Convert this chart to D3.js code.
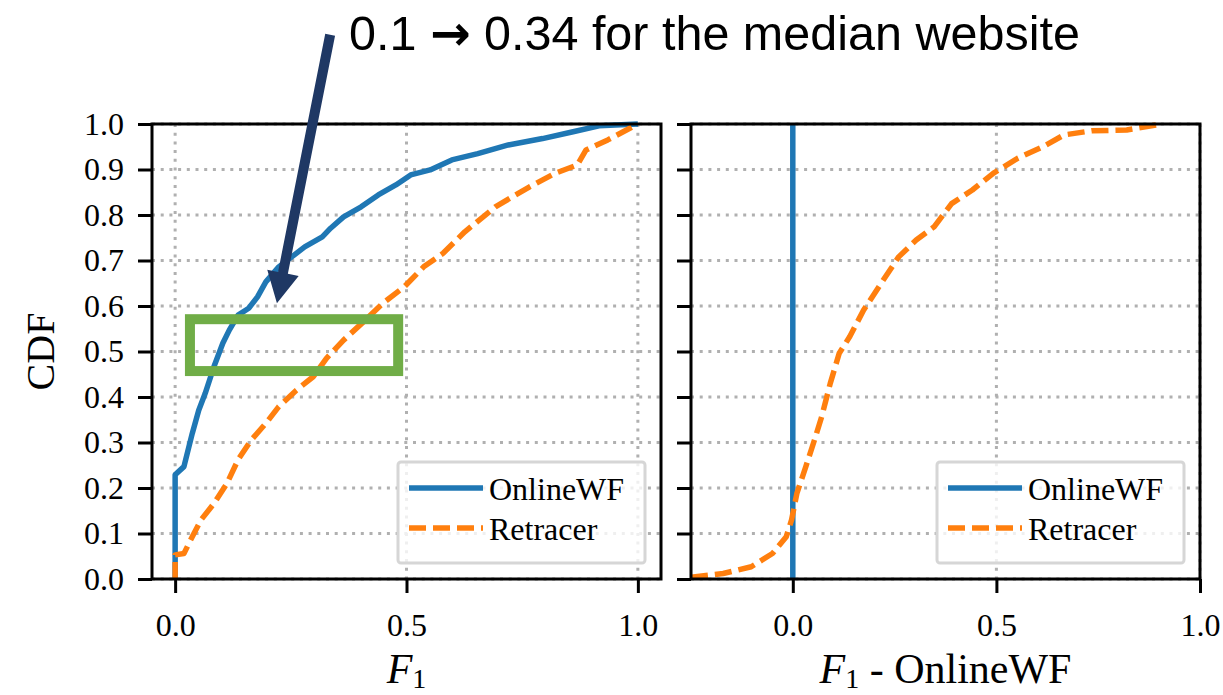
<!DOCTYPE html>
<html lang="en">
<head>
<meta charset="UTF-8">
<title>CDF of F1</title>
<script src="https://d3js.org/d3.v7.min.js"></script>
<style>
  body { margin: 0; background: #fff; }
  text { font-family: "Liberation Serif", "Times New Roman", serif; fill: #000; }
</style>
</head>
<body>
<svg id="chart" width="1223" height="695"></svg>
<script>
// ---- data ----
const yTicks = [0.0, 0.1, 0.2, 0.3, 0.4, 0.5, 0.6, 0.7, 0.8, 0.9, 1.0];
const xTicks = [0.0, 0.5, 1.0];
const seriesNames = ["OnlineWF", "Retracer"];

// left panel: CDF of F1
const onlineF1 = [
  [0, 0], [0, 0.229], [0.019, 0.247], [0.037, 0.32], [0.051, 0.371], [0.065, 0.408],
  [0.084, 0.467], [0.103, 0.518], [0.117, 0.547], [0.136, 0.58], [0.159, 0.595],
  [0.178, 0.62], [0.196, 0.653], [0.224, 0.686], [0.252, 0.708], [0.28, 0.73],
  [0.318, 0.752], [0.336, 0.771], [0.364, 0.796], [0.402, 0.818], [0.439, 0.844],
  [0.477, 0.866], [0.509, 0.888], [0.551, 0.899], [0.598, 0.921], [0.654, 0.935],
  [0.72, 0.954], [0.794, 0.968], [0.86, 0.983], [0.916, 0.996], [1.0, 1.0]
];
const retracerF1 = [
  [0, 0], [0, 0.053], [0.019, 0.056], [0.037, 0.093], [0.056, 0.13], [0.084, 0.166],
  [0.112, 0.21], [0.136, 0.262], [0.164, 0.305], [0.196, 0.342], [0.224, 0.379],
  [0.262, 0.415], [0.299, 0.445], [0.327, 0.485], [0.364, 0.525], [0.411, 0.569],
  [0.449, 0.606], [0.495, 0.642], [0.537, 0.686], [0.579, 0.716], [0.626, 0.763],
  [0.692, 0.818], [0.766, 0.862], [0.822, 0.892], [0.869, 0.91], [0.888, 0.943],
  [0.935, 0.965], [1.0, 1.0]
];

// right panel: CDF of F1 - OnlineWF
const onlineDiff = [[0, 0], [0, 1]];
const retracerDiff = [
  [-0.25, 0.004], [-0.171, 0.012], [-0.102, 0.027], [-0.05, 0.056], [-0.016, 0.093],
  [-0.003, 0.13], [0.01, 0.188], [0.032, 0.247], [0.053, 0.305], [0.071, 0.357],
  [0.092, 0.43], [0.114, 0.496], [0.14, 0.533], [0.174, 0.591], [0.217, 0.65],
  [0.26, 0.708], [0.303, 0.745], [0.347, 0.774], [0.39, 0.825], [0.441, 0.855],
  [0.493, 0.892], [0.553, 0.925], [0.614, 0.95], [0.666, 0.976], [0.734, 0.985],
  [0.82, 0.987], [0.907, 1.0]
];

// annotation (in left panel data units)
const annoParts = ["0.1 ", "\u2192", " 0.34 for the median website"];
const arrowFrom = [0.335, 1.196];
const arrowTo = [0.22, 0.606];
const boxLo = [0.032, 0.457];
const boxHi = [0.482, 0.571];

// ---- layout ----
const svg = d3.select("#chart");
const plotTop = 124, plotBottom = 579;
const colors = { OnlineWF: "#1f77b4", Retracer: "#ff7f0e" };
const fmt = d3.format(".1f");

const y = d3.scaleLinear().domain([0, 1]).range([plotBottom, plotTop]);

const panels = [
  { id: "left", x: d3.scaleLinear().domain([-0.05, 1.05]).range([152, 661]),
    series: [onlineF1, retracerF1], ylabels: true, xlabel: "F1" },
  { id: "right", x: d3.scaleLinear().domain([-0.25, 1.0]).range([691, 1200]),
    series: [onlineDiff, retracerDiff], ylabels: false, xlabel: "F1 - OnlineWF" }
];

svg.append("rect").attr("width", 1223).attr("height", 695).attr("fill", "#fff");

panels.forEach(p => {
  const x = p.x;
  const [x0, x1] = x.range();
  const g = svg.append("g").attr("class", p.id);

  svg.append("clipPath").attr("id", "clip-" + p.id)
    .append("rect").attr("x", x0).attr("y", plotTop - 3)
    .attr("width", x1 - x0).attr("height", plotBottom - plotTop + 6);

  // grid
  g.selectAll("line.hgrid")
    .data(yTicks)
    .join("line")
    .attr("class", "hgrid")
    .attr("x1", x0).attr("x2", x1)
    .attr("y1", d => y(d)).attr("y2", d => y(d))
    .attr("stroke", "#b0b0b0").attr("stroke-width", 3)
    .attr("stroke-dasharray", "3,5.7");
  g.selectAll("line.vgrid")
    .data(xTicks)
    .join("line")
    .attr("class", "vgrid")
    .attr("x1", d => x(d)).attr("x2", d => x(d))
    .attr("y1", plotTop).attr("y2", plotBottom)
    .attr("stroke", "#b0b0b0").attr("stroke-width", 3)
    .attr("stroke-dasharray", "3,5.7");

  // curves
  const line = d3.line().x(d => x(d[0])).y(d => y(d[1]));
  const curves = g.append("g").attr("clip-path", `url(#clip-${p.id})`);
  p.series.forEach((s, i) => {
    const name = seriesNames[i];
    curves.append("path")
      .datum(s)
      .attr("d", line)
      .attr("fill", "none")
      .attr("stroke", colors[name])
      .attr("stroke-width", 5.5)
      .attr("stroke-linejoin", "round")
      .attr("stroke-dasharray", name === "Retracer" ? "17,7" : null);
  });

  // spines
  g.append("rect")
    .attr("x", x0).attr("y", plotTop)
    .attr("width", x1 - x0).attr("height", plotBottom - plotTop)
    .attr("fill", "none").attr("stroke", "#000").attr("stroke-width", 3);

  // axes
  const yAxis = d3.axisLeft(y).tickValues(yTicks).tickSize(14).tickPadding(14)
    .tickFormat(p.ylabels ? fmt : () => "");
  const ya = g.append("g").attr("transform", `translate(${x0},0)`).call(yAxis);
  const xAxis = d3.axisBottom(x).tickValues(xTicks).tickSize(14).tickPadding(20).tickFormat(fmt);
  const xa = g.append("g").attr("transform", `translate(0,${plotBottom})`).call(xAxis);
  [ya, xa].forEach(a => {
    a.select(".domain").remove();
    a.selectAll(".tick line").attr("stroke", "#000").attr("stroke-width", 3);
    a.selectAll(".tick text")
      .attr("fill", "#000")
      .style("font-family", '"Liberation Serif", serif')
      .style("font-size", "32px");
  });

  // x label
  const xl = g.append("text")
    .attr("x", (x0 + x1) / 2).attr("y", 683)
    .attr("text-anchor", "middle")
    .style("font-size", "42px");
  xl.append("tspan").style("font-style", "italic").text("F");
  xl.append("tspan").attr("dy", 5).style("font-size", "28px").text("1");
  if (p.xlabel.length > 2) {
    xl.append("tspan").attr("dy", -5).text(" - OnlineWF");
  }

  // legend
  const lg = g.append("g").attr("transform", `translate(${x1 - 16 - 247},462)`);
  lg.append("rect")
    .attr("width", 247).attr("height", 101).attr("rx", 3)
    .attr("fill", "#fff").attr("fill-opacity", 0.8)
    .attr("stroke", "#d6d6d6").attr("stroke-width", 3);
  seriesNames.forEach((name, i) => {
    const ly = 26 + i * 40;
    lg.append("line")
      .attr("x1", 11).attr("x2", 85).attr("y1", ly).attr("y2", ly)
      .attr("stroke", colors[name]).attr("stroke-width", 5.5)
      .attr("stroke-dasharray", name === "Retracer" ? "17,7" : null);
    lg.append("text")
      .attr("x", 91).attr("y", ly + 12)
      .style("font-size", "32px")
      .text(name);
  });
});

// y label
svg.append("text")
  .attr("transform", `translate(54,${(plotTop + plotBottom) / 2}) rotate(-90)`)
  .attr("text-anchor", "middle")
  .style("font-size", "40px")
  .text("CDF");

// ---- annotation ----
const xL = panels[0].x;
svg.append("rect")
  .attr("x", xL(boxLo[0])).attr("y", y(boxHi[1]))
  .attr("width", xL(boxHi[0]) - xL(boxLo[0]))
  .attr("height", y(boxLo[1]) - y(boxHi[1]))
  .attr("fill", "none").attr("stroke", "#70ad47").attr("stroke-width", 10);

// arrow: shaft + head as one polygon
const ax0 = xL(arrowFrom[0]), ay0 = y(arrowFrom[1]);
const ax1 = xL(arrowTo[0]), ay1 = y(arrowTo[1]);
const len = Math.hypot(ax1 - ax0, ay1 - ay0);
const ux = (ax1 - ax0) / len, uy = (ay1 - ay0) / len;
const nx = -uy, ny = ux;
const headLen = 31, headHalf = 16, shaftHalf = 5;
const bx = ax1 - ux * headLen, by = ay1 - uy * headLen;
const arrowPts = [
  [ax0 + nx * shaftHalf, ay0 + ny * shaftHalf],
  [bx + nx * shaftHalf, by + ny * shaftHalf],
  [bx + nx * headHalf, by + ny * headHalf],
  [ax1, ay1],
  [bx - nx * headHalf, by - ny * headHalf],
  [bx - nx * shaftHalf, by - ny * shaftHalf],
  [ax0 - nx * shaftHalf, ay0 - ny * shaftHalf]
];
svg.append("path")
  .attr("d", "M" + arrowPts.map(p => p.join(",")).join("L") + "Z")
  .attr("fill", "#1f3864");

const anno = svg.append("text")
  .attr("x", 349).attr("y", 50)
  .style("font-family", '"Liberation Sans", Arial, sans-serif')
  .style("font-size", "48.5px");
anno.append("tspan").text(annoParts[0]);
anno.append("tspan")
  .style("font-family", '"DejaVu Sans", sans-serif')
  .style("font-weight", "bold")
  .text(annoParts[1]);
anno.append("tspan").text(annoParts[2]);
</script>
</body>
</html>
